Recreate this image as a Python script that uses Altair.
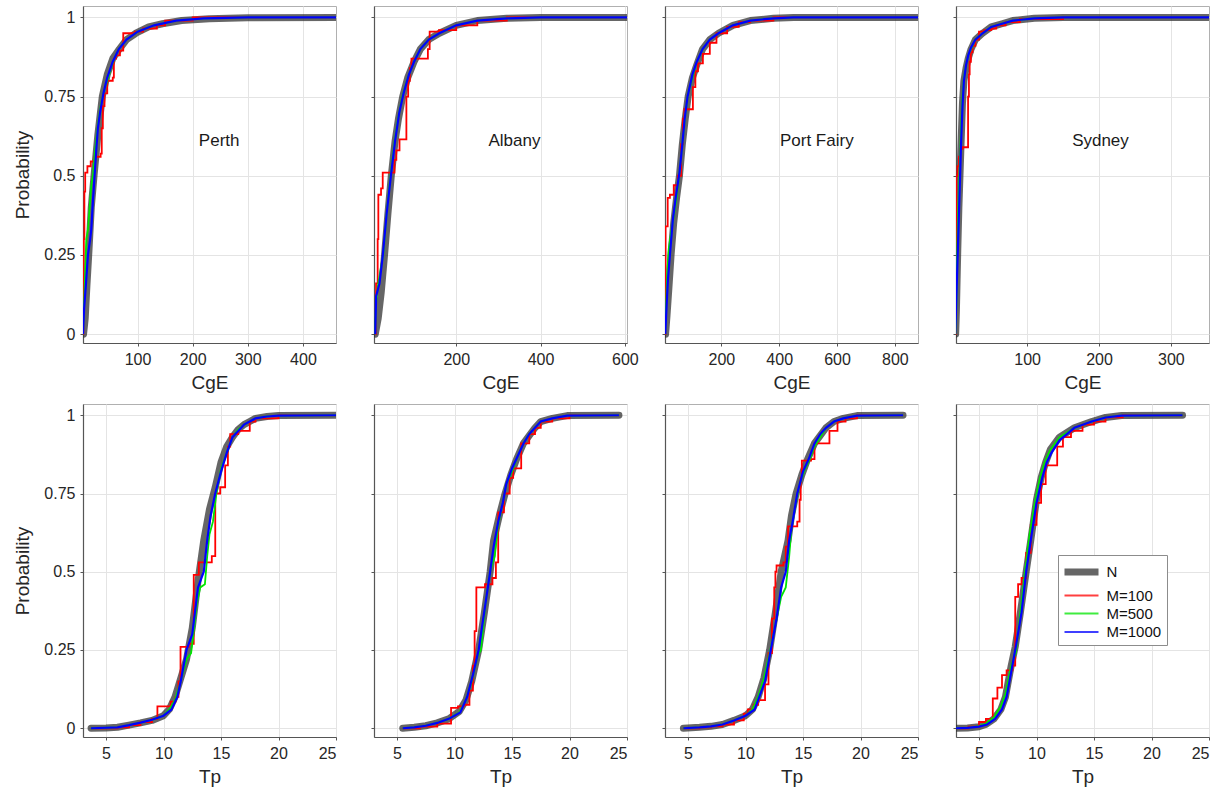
import altair as alt
import pandas as pd

SERIES = ["N", "M=100", "M=500", "M=1000"]
COLORS = ["#333333", "#ff0000", "#00e600", "#0000ff"]
WIDTHS = [7, 1.8, 1.8, 2.2]

SITES = ["Perth", "Albany", "Port Fairy", "Sydney"]
SITE_LABEL_X = [248, 338, 530, 202]
SITE_LABEL_P = 0.61

Y_TICKS = [0, 0.25, 0.5, 0.75, 1]
Y_DOMAIN = [-0.028, 1.036]

CGE_DOMAINS = [[1, 460], [5, 605], [5, 880], [1, 353]]
CGE_TICKS = [[100, 200, 300, 400], [200, 400, 600], [200, 400, 600, 800], [100, 200, 300]]
TP_DOMAIN = [3, 25]
TP_TICKS = [5, 10, 15, 20, 25]

# ---------------- CgE curves (x, probability) ----------------
perth_cge_n = [(2, 0), (5, 0.05), (8, 0.15), (12, 0.27), (16, 0.4), (21, 0.5), (28, 0.63), (36, 0.75),
               (45, 0.82), (55, 0.87), (67, 0.9), (80, 0.93), (97, 0.95), (120, 0.97), (145, 0.98),
               (180, 0.99), (230, 0.996), (300, 0.999), (460, 1.0)]
perth_cge_m100 = [(0.5, 0), (1.5, 0.1), (2.5, 0.3), (3.5, 0.45), (5, 0.51), (9, 0.53), (15, 0.545), (22, 0.56),
                  (33, 0.57), (35, 0.65), (37, 0.72), (40, 0.76), (45, 0.8), (55, 0.81), (57, 0.87), (61, 0.88),
                  (68, 0.895), (74, 0.95), (95, 0.955), (110, 0.965), (135, 0.975), (150, 0.99), (200, 1.0),
                  (460, 1.0)]
perth_cge_m500 = [(1, 0), (3, 0.1), (5, 0.2), (7, 0.3), (10, 0.33), (13, 0.4), (16, 0.47), (19, 0.5), (23, 0.58),
                  (28, 0.66), (33, 0.72), (38, 0.76), (45, 0.8), (52, 0.84), (58, 0.87), (66, 0.9), (80, 0.93),
                  (100, 0.955), (130, 0.975), (170, 0.99), (220, 0.997), (300, 1.0), (460, 1.0)]
perth_cge_m1000 = [(1, 0), (3, 0.08), (6, 0.15), (10, 0.25), (14, 0.3), (16, 0.33), (19, 0.42), (22, 0.5),
                   (25, 0.58), (28, 0.65), (32, 0.7), (38, 0.76), (45, 0.81), (55, 0.86), (66, 0.9), (80, 0.93),
                   (100, 0.955), (130, 0.975), (170, 0.99), (220, 0.997), (300, 1.0), (460, 1.0)]

albany_cge_n = [(8, 0), (15, 0.05), (22, 0.13), (30, 0.25), (38, 0.38), (46, 0.5), (55, 0.61), (63, 0.68),
                (73, 0.75), (85, 0.81), (100, 0.86), (115, 0.9), (135, 0.93), (160, 0.95), (200, 0.975),
                (250, 0.99), (320, 0.997), (400, 1.0), (605, 1.0)]
albany_cge_m100 = [(9, 0), (9.8, 0.16), (13.7, 0.3), (15.3, 0.44), (21.7, 0.46), (25.7, 0.51), (53.5, 0.55),
                   (58, 0.58), (65.5, 0.615), (81.8, 0.75), (86, 0.8), (90, 0.84), (93.8, 0.87), (132.8, 0.9),
                   (137, 0.955), (159, 0.96), (200, 0.975), (250, 0.99), (320, 1.0), (605, 1.0)]
albany_cge_m500 = [(8, 0), (10, 0.1), (14, 0.15), (20, 0.2), (27, 0.25), (35, 0.38), (44, 0.5), (54, 0.61),
                   (62, 0.68), (72, 0.75), (85, 0.81), (100, 0.86), (115, 0.9), (135, 0.93), (160, 0.95),
                   (200, 0.975), (250, 0.99), (320, 0.997), (400, 1.0), (605, 1.0)]
albany_cge_m1000 = [(8, 0), (10, 0.12), (14, 0.14), (18, 0.16), (26, 0.25), (35, 0.38), (45, 0.5), (55, 0.61),
                    (65, 0.7), (75, 0.76), (88, 0.82), (100, 0.86), (115, 0.9), (135, 0.93), (160, 0.95),
                    (200, 0.975), (250, 0.99), (320, 0.997), (400, 1.0), (605, 1.0)]

pf_cge_n = [(7, 0), (12, 0.06), (18, 0.14), (26, 0.25), (35, 0.35), (45, 0.43), (55, 0.5), (65, 0.6), (75, 0.68),
            (85, 0.75), (100, 0.81), (115, 0.85), (135, 0.9), (160, 0.93), (190, 0.95), (240, 0.975),
            (300, 0.99), (380, 0.997), (450, 1.0), (880, 1.0)]
pf_cge_m100 = [(6, 0), (6.5, 0.2), (7, 0.34), (14.3, 0.43), (22, 0.44), (35.3, 0.47), (50, 0.5), (60.8, 0.6),
               (67, 0.68), (72, 0.71), (101.5, 0.78), (110, 0.83), (119, 0.855), (136, 0.885), (160, 0.92),
               (183, 0.95), (220, 0.97), (260, 0.985), (300, 0.99), (380, 1.0), (880, 1.0)]
pf_cge_m500 = [(6, 0), (9, 0.1), (13, 0.2), (18, 0.27), (26, 0.32), (35, 0.37), (45, 0.43), (55, 0.51),
               (65, 0.6), (75, 0.69), (85, 0.76), (100, 0.81), (115, 0.86), (135, 0.9), (160, 0.93),
               (190, 0.95), (240, 0.975), (300, 0.99), (380, 0.997), (450, 1.0), (880, 1.0)]
pf_cge_m1000 = [(6, 0), (10, 0.08), (15, 0.17), (22, 0.25), (32, 0.36), (42, 0.43), (55, 0.51), (65, 0.6),
                (73, 0.68), (83, 0.75), (100, 0.82), (115, 0.86), (135, 0.9), (160, 0.93), (190, 0.95),
                (240, 0.975), (300, 0.99), (380, 0.997), (450, 1.0), (880, 1.0)]

syd_cge_n = [(0.5, 0), (1.5, 0.07), (2.5, 0.17), (3.5, 0.27), (5, 0.4), (6.5, 0.5), (8, 0.6), (10, 0.73),
             (12, 0.8), (15, 0.84), (18, 0.87), (22, 0.9), (28, 0.93), (38, 0.95), (50, 0.97), (65, 0.98),
             (80, 0.99), (110, 0.997), (150, 1.0), (353, 1.0)]
syd_cge_m100 = [(0.5, 0), (1, 0.3), (1.5, 0.5), (3, 0.53), (5, 0.56), (7, 0.585), (10, 0.59), (17.8, 0.75),
                (19, 0.82), (20, 0.86), (21.7, 0.89), (24, 0.91), (28, 0.93), (33, 0.955), (40, 0.96),
                (50, 0.965), (57, 0.975), (70, 0.985), (90, 0.995), (150, 1.0), (353, 1.0)]
syd_cge_m500 = [(0.5, 0), (1.5, 0.1), (2.5, 0.25), (3.5, 0.35), (5, 0.45), (6.5, 0.55), (8, 0.65), (10, 0.75),
                (12, 0.81), (15, 0.85), (18, 0.88), (22, 0.9), (28, 0.93), (38, 0.95), (50, 0.97), (65, 0.98),
                (80, 0.99), (110, 0.997), (150, 1.0), (353, 1.0)]
syd_cge_m1000 = [(0, 0), (2, 0.15), (4, 0.3), (6, 0.45), (8, 0.6), (10, 0.72), (12, 0.8), (15, 0.85),
                 (18, 0.88), (22, 0.905), (28, 0.93), (38, 0.95), (50, 0.97), (65, 0.98), (80, 0.99),
                 (110, 0.997), (150, 1.0), (353, 1.0)]

# ---------------- Tp curves (x, probability) ----------------
perth_tp_n = [(3.7, 0), (5, 0.001), (6, 0.003), (7, 0.01), (8, 0.017), (9, 0.025), (10, 0.04), (10.5, 0.06),
              (11, 0.1), (11.5, 0.16), (12, 0.22), (12.5, 0.32), (13, 0.47), (13.5, 0.6), (14, 0.7),
              (14.5, 0.77), (15, 0.85), (15.5, 0.9), (16, 0.93), (16.5, 0.955), (17, 0.97), (17.5, 0.98),
              (18, 0.99), (19, 0.996), (20, 0.999), (25, 1.0)]
perth_tp_m100 = [(3.7, 0), (6, 0.003), (7, 0.01), (8, 0.02), (9, 0.03), (9.47, 0.07), (10.62, 0.085),
                 (11.05, 0.1), (11.3, 0.15), (11.48, 0.26), (12.2, 0.27), (12.63, 0.49), (13.07, 0.53),
                 (14.2, 0.55), (14.5, 0.75), (14.93, 0.77), (15.36, 0.84), (15.6, 0.9), (15.8, 0.94),
                 (16.5, 0.95), (17.5, 0.98), (18, 0.99), (20, 1.0), (25, 1.0)]
perth_tp_m500 = [(3.7, 0), (6, 0.003), (7, 0.01), (8, 0.018), (9, 0.027), (10, 0.04), (10.5, 0.06), (11, 0.09),
                 (11.5, 0.15), (12, 0.22), (12.4, 0.24), (12.6, 0.3), (12.9, 0.4), (13.2, 0.45), (13.6, 0.46),
                 (13.8, 0.55), (14, 0.62), (14.3, 0.66), (14.6, 0.75), (15, 0.83), (15.5, 0.88), (16, 0.93),
                 (16.5, 0.955), (17, 0.97), (17.5, 0.98), (18, 0.99), (19, 0.996), (20, 0.999), (25, 1.0)]
perth_tp_m1000 = [(3.7, 0), (6, 0.003), (7, 0.01), (8, 0.018), (9, 0.027), (10, 0.04), (10.7, 0.06),
                  (11.2, 0.1), (11.5, 0.15), (12, 0.25), (12.5, 0.3), (13, 0.45), (13.5, 0.5), (13.8, 0.6),
                  (14.1, 0.68), (14.5, 0.75), (15, 0.82), (15.5, 0.88), (16, 0.93), (16.5, 0.95), (17, 0.97),
                  (17.5, 0.98), (18, 0.99), (19, 0.996), (20, 0.999), (25, 1.0)]

albany_tp_n = [(5.5, 0), (6.5, 0.003), (7.5, 0.008), (8.5, 0.017), (9.5, 0.03), (10.4, 0.053), (11, 0.09),
               (11.5, 0.15), (12.1, 0.25), (12.6, 0.37), (13.1, 0.5), (13.4, 0.6), (13.9, 0.68), (14.4, 0.75),
               (14.9, 0.81), (15.4, 0.86), (16, 0.91), (16.4, 0.93), (17, 0.96), (17.5, 0.98), (18.5, 0.99),
               (19.8, 0.999), (24.3, 1.0)]
albany_tp_m100 = [(5.5, 0), (7, 0.005), (8.5, 0.015), (9.7, 0.065), (10.3, 0.07), (10.8, 0.075), (11.3, 0.12),
                  (11.6, 0.2), (11.75, 0.31), (11.9, 0.45), (12.65, 0.46), (13.3, 0.48), (13.6, 0.53),
                  (13.8, 0.69), (14.3, 0.75), (14.8, 0.8), (15.1, 0.83), (15.8, 0.91), (16.5, 0.94), (17, 0.96),
                  (17.5, 0.98), (18.5, 0.99), (20, 1.0), (24.3, 1.0)]
albany_tp_m500 = [(5.5, 0), (6.5, 0.003), (7.5, 0.008), (8.5, 0.017), (9.5, 0.03), (10.4, 0.05), (11, 0.09),
                  (11.5, 0.15), (12, 0.23), (12.3, 0.25), (12.7, 0.4), (13.1, 0.5), (13.5, 0.55), (13.8, 0.65),
                  (14.2, 0.72), (14.5, 0.78), (15, 0.82), (15.5, 0.87), (16, 0.91), (16.5, 0.94), (17, 0.96),
                  (17.5, 0.98), (18.5, 0.99), (19.8, 0.999), (24.3, 1.0)]
albany_tp_m1000 = [(5.5, 0), (6.5, 0.003), (7.5, 0.008), (8.5, 0.017), (9.5, 0.03), (10.5, 0.05), (11.1, 0.1),
                   (11.6, 0.17), (12.1, 0.25), (12.7, 0.4), (13.1, 0.5), (13.4, 0.58), (13.8, 0.66),
                   (14.2, 0.72), (14.5, 0.78), (15, 0.83), (15.5, 0.87), (16, 0.91), (16.5, 0.94), (17, 0.96),
                   (17.5, 0.98), (18.5, 0.99), (19.8, 0.999), (24.3, 1.0)]

pf_tp_n = [(4.6, 0), (6, 0.003), (7, 0.006), (8, 0.012), (9, 0.025), (10, 0.04), (10.6, 0.06), (11.1, 0.1),
           (11.6, 0.16), (12.1, 0.25), (12.6, 0.37), (13.1, 0.5), (13.7, 0.6), (14, 0.68), (14.4, 0.75),
           (14.9, 0.81), (15.4, 0.86), (16, 0.91), (16.4, 0.93), (17, 0.96), (17.7, 0.98), (18.5, 0.99),
           (19.7, 0.999), (23.7, 1.0)]
pf_tp_m100 = [(4.6, 0), (6, 0.003), (7, 0.006), (8, 0.012), (9, 0.025), (9.85, 0.047), (10.2, 0.06),
              (10.7, 0.075), (11.1, 0.09), (11.7, 0.14), (12.0, 0.24), (12.3, 0.35), (12.5, 0.45), (12.6, 0.5),
              (12.7, 0.52), (13.3, 0.53), (13.5, 0.58), (13.7, 0.645), (14.5, 0.66), (14.7, 0.73), (14.8, 0.8),
              (14.9, 0.855), (15.7, 0.86), (16.0, 0.91), (17.3, 0.95), (18, 0.98), (18.7, 0.99), (19.7, 1.0),
              (23.7, 1.0)]
pf_tp_m500 = [(4.6, 0), (6, 0.003), (7, 0.006), (8, 0.012), (9, 0.025), (10, 0.04), (10.6, 0.06), (11.1, 0.1),
              (11.6, 0.16), (12.1, 0.24), (12.6, 0.33), (13.1, 0.42), (13.5, 0.45), (13.8, 0.55), (14, 0.64),
              (14.3, 0.7), (14.7, 0.78), (15.2, 0.83), (15.6, 0.86), (16, 0.9), (16.5, 0.93), (17, 0.96),
              (17.7, 0.98), (18.5, 0.99), (19.7, 0.999), (23.7, 1.0)]
pf_tp_m1000 = [(4.6, 0), (6, 0.003), (7, 0.006), (8, 0.012), (9, 0.025), (10, 0.04), (10.8, 0.06), (11.2, 0.1),
               (11.7, 0.15), (12.2, 0.25), (12.7, 0.35), (13.1, 0.45), (13.5, 0.5), (13.8, 0.6), (14.1, 0.66),
               (14.5, 0.75), (15, 0.82), (15.5, 0.86), (16, 0.91), (16.5, 0.94), (17, 0.96), (17.7, 0.98),
               (18.5, 0.99), (19.7, 0.999), (23.7, 1.0)]

syd_tp_n = [(3, 0), (4, 0.001), (5, 0.005), (5.6, 0.012), (6.3, 0.03), (6.9, 0.06), (7.3, 0.1), (7.8, 0.2),
            (8.15, 0.26), (8.6, 0.37), (9.1, 0.5), (9.5, 0.6), (10, 0.73), (10.4, 0.8), (10.8, 0.85),
            (11.2, 0.89), (12, 0.93), (13.3, 0.96), (14.8, 0.98), (16, 0.993), (17.4, 0.999), (22.7, 1.0)]
syd_tp_m100 = [(3, 0), (4.1, 0.005), (5, 0.02), (5.6, 0.03), (6.2, 0.095), (6.6, 0.13), (7.0, 0.17),
               (7.4, 0.185), (7.9, 0.2), (8.15, 0.42), (8.4, 0.46), (8.7, 0.48), (9.1, 0.56), (9.5, 0.65),
               (10, 0.72), (10.4, 0.78), (10.8, 0.84), (11.8, 0.9), (12.3, 0.93), (13, 0.95), (14, 0.97),
               (15, 0.98), (16, 0.993), (17.5, 1.0), (22.7, 1.0)]
syd_tp_m500 = [(3, 0), (4, 0.001), (5, 0.007), (5.6, 0.015), (6.3, 0.035), (6.9, 0.07), (7.3, 0.11), (7.8, 0.2),
               (8.2, 0.24), (8.6, 0.37), (9.0, 0.5), (9.4, 0.62), (9.9, 0.73), (10.3, 0.8), (10.7, 0.85),
               (11.2, 0.89), (12, 0.93), (13.3, 0.96), (14.8, 0.98), (16, 0.993), (17.4, 0.999), (22.7, 1.0)]
syd_tp_m1000 = [(3, 0), (4, 0.001), (5, 0.005), (5.7, 0.012), (6.4, 0.03), (7, 0.06), (7.4, 0.1), (7.9, 0.2),
                (8.2, 0.26), (8.7, 0.37), (9.1, 0.5), (9.5, 0.6), (10, 0.72), (10.5, 0.8), (10.9, 0.85),
                (11.3, 0.88), (12, 0.92), (13.3, 0.96), (14.8, 0.98), (16, 0.993), (17.4, 0.999), (22.7, 1.0)]

CGE_CURVES = [
    [perth_cge_n, perth_cge_m100, perth_cge_m500, perth_cge_m1000],
    [albany_cge_n, albany_cge_m100, albany_cge_m500, albany_cge_m1000],
    [pf_cge_n, pf_cge_m100, pf_cge_m500, pf_cge_m1000],
    [syd_cge_n, syd_cge_m100, syd_cge_m500, syd_cge_m1000],
]
TP_CURVES = [
    [perth_tp_n, perth_tp_m100, perth_tp_m500, perth_tp_m1000],
    [albany_tp_n, albany_tp_m100, albany_tp_m500, albany_tp_m1000],
    [pf_tp_n, pf_tp_m100, pf_tp_m500, pf_tp_m1000],
    [syd_tp_n, syd_tp_m100, syd_tp_m500, syd_tp_m1000],
]

FONT = "Liberation Sans"
PANEL_W = 253
LEGEND_LABEL = "datum.label + '\u00a0\u00a0\u00a0'"


def make_df(curves):
    rows = []
    for name, pts in zip(SERIES, curves):
        for i, (x, p) in enumerate(pts):
            rows.append({"x": x, "p": p, "series": name, "i": i})
    return pd.DataFrame(rows)


def panel(curves, domain, ticks, xtitle, first, height, site=None, site_x=None):
    df = make_df(curves)
    xscale = alt.Scale(domain=domain, nice=False, zero=False)
    yscale = alt.Scale(domain=Y_DOMAIN, nice=False, zero=False)
    x = alt.X("x:Q", scale=xscale, axis=alt.Axis(values=ticks, title=xtitle, labelExpr="'' + datum.value"))
    y = alt.Y("p:Q", scale=yscale,
              axis=alt.Axis(values=Y_TICKS, labelExpr="'' + datum.value", labels=first,
                            title="Probability" if first else None))
    color = alt.Color("series:N", scale=alt.Scale(domain=SERIES, range=COLORS),
                      legend=alt.Legend(title=None, labelExpr=LEGEND_LABEL))
    sw = alt.StrokeWidth("series:N", scale=alt.Scale(type="ordinal", domain=SERIES, range=WIDTHS),
                         legend=alt.Legend(title=None, labelExpr=LEGEND_LABEL))
    base = alt.Chart(df).encode(x=x, y=y, color=color, strokeWidth=sw, order="i:Q")
    layers = [
        base.transform_filter(alt.datum.series == "N").mark_line(
            opacity=0.75, strokeCap="round", strokeJoin="round", clip=True),
        base.transform_filter(alt.datum.series == "M=100").mark_line(interpolate="step-after", clip=True),
        base.transform_filter(alt.datum.series == "M=500").mark_line(clip=True),
        base.transform_filter(alt.datum.series == "M=1000").mark_line(clip=True),
    ]
    if site is not None:
        tdf = pd.DataFrame({"x": [site_x], "p": [SITE_LABEL_P], "site": [site]})
        layers.append(
            alt.Chart(tdf).mark_text(font=FONT, fontSize=17, color="#1a1a1a").encode(
                x=x, y=y, text="site:N",
            )
        )
    return alt.layer(*layers).properties(width=PANEL_W, height=height)


top = alt.hconcat(
    *[panel(CGE_CURVES[k], CGE_DOMAINS[k], CGE_TICKS[k], "CgE", k == 0, 337, SITES[k], SITE_LABEL_X[k])
      for k in range(4)],
    spacing=38, bounds="flush",
)
bottom = alt.hconcat(
    *[panel(TP_CURVES[k], TP_DOMAIN, TP_TICKS, "Tp", k == 0, 333) for k in range(4)],
    spacing=38, bounds="flush",
)

chart = alt.vconcat(top, bottom, spacing=10).properties(
    padding={"left": 13, "top": 5, "right": 2, "bottom": 2},
    background="white",
).configure_view(
    stroke="#b0b0b0", strokeWidth=1
).configure_axis(
    labelFont=FONT, labelFontSize=16, labelColor="#262626", labelPadding=5,
    titleFont=FONT, titleFontSize=19, titleFontWeight="normal", titleColor="#262626", titlePadding=6,
    domainColor="#555555", domainWidth=1.2, tickColor="#555555", tickSize=3,
    gridColor="#e4e4e4", gridWidth=1,
).configure_axisY(
    titlePadding=11,
).configure_legend(
    orient="none", legendX=975, legendY=549,
    labelFont=FONT, labelFontSize=15, labelColor="#111111",
    strokeColor="#8c8c8c", fillColor="white", padding=5, rowPadding=0,
    symbolSize=289, symbolType="M-2,0H2", symbolOffset=6.5, labelOffset=13,
)

chart.save("out.html", embed_options={"renderer": "svg", "actions": False})
